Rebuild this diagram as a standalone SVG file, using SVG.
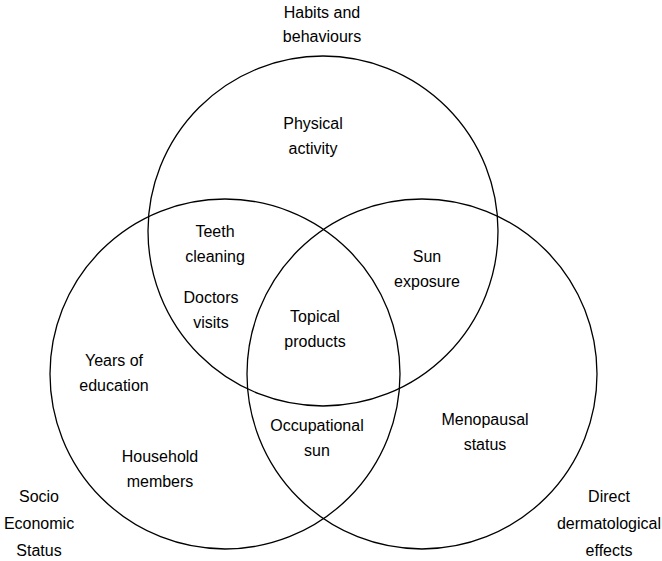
<svg xmlns="http://www.w3.org/2000/svg" width="662" height="561" viewBox="0 0 662 561">
<style>
.c{fill:none;stroke:#000;stroke-width:1.3}
text{font-family:"Liberation Sans",Arial,sans-serif;font-size:16px;fill:#000;text-anchor:middle}
</style>
<rect width="662" height="561" fill="#fff"/>
<g id="circles">
<circle id="habits" class="c" cx="323" cy="231" r="175"/>
<circle id="ses" class="c" cx="225" cy="374" r="175"/>
<circle id="derm" class="c" cx="422" cy="374" r="175"/>
</g>
<g id="labels">
<text x="322" y="18">Habits and</text>
<text x="322" y="42">behaviours</text>
<text x="39" y="502">Socio</text>
<text x="39" y="529">Economic</text>
<text x="39" y="556">Status</text>
<text x="609" y="502">Direct</text>
<text x="609" y="529">dermatological</text>
<text x="609" y="556">effects</text>
</g>
<g id="items">
<text x="313" y="129">Physical</text>
<text x="313" y="154">activity</text>
<text x="215" y="237">Teeth</text>
<text x="215" y="262">cleaning</text>
<text x="211" y="303">Doctors</text>
<text x="211" y="328">visits</text>
<text x="315" y="322">Topical</text>
<text x="315" y="347">products</text>
<text x="427" y="262">Sun</text>
<text x="427" y="287">exposure</text>
<text x="114" y="366">Years of</text>
<text x="114" y="391">education</text>
<text x="160" y="462">Household</text>
<text x="160" y="487">members</text>
<text x="317" y="431">Occupational</text>
<text x="317" y="456">sun</text>
<text x="485" y="425">Menopausal</text>
<text x="485" y="450">status</text>
</g>
</svg>
